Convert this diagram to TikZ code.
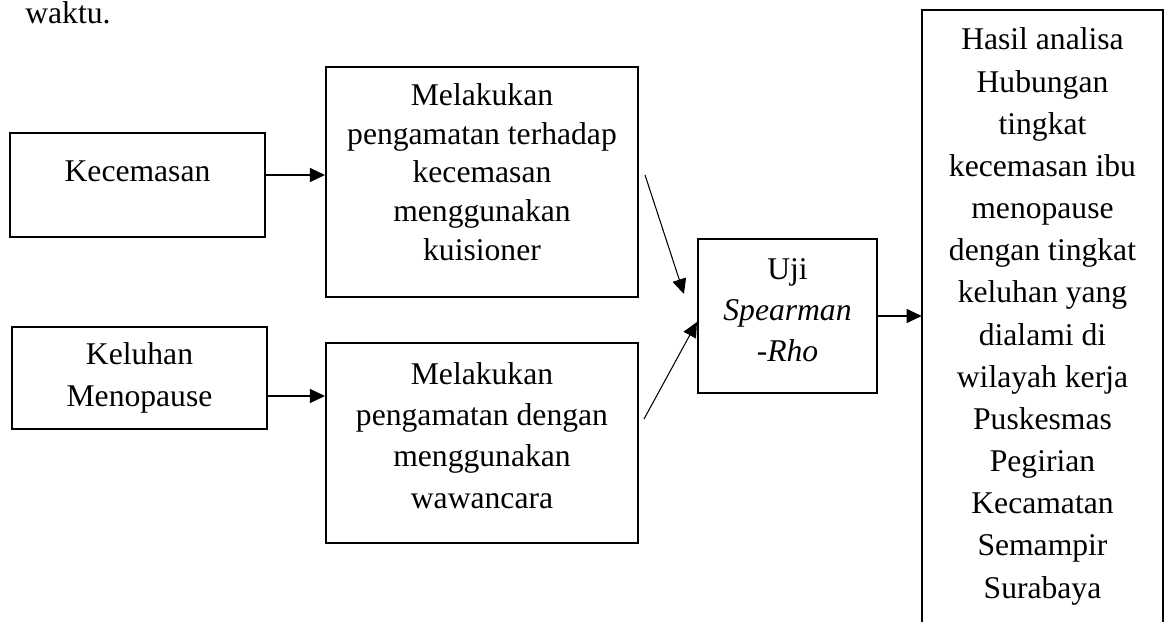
\documentclass[tikz,border=0pt]{standalone}
\usepackage{fontspec}
\setmainfont{Liberation Serif}
\usetikzlibrary{arrows.meta}

\begin{document}
\begin{tikzpicture}[x=0.02cm,y=-0.02cm,
    font=\fontsize{18pt}{23.5pt}\selectfont,
    kotak/.style={draw, line width=1.2pt, align=center, inner sep=0pt},
    panah/.style={-{Triangle[length=0.3cm,width=0.28cm]}, line width=0.6pt}]
    \useasboundingbox (0,0) rectangle (1167,622);

    % sisa paragraf
    \node[anchor=base west, inner sep=0pt] (waktu) at (25,24) {waktu.};

    % variabel
    \node[kotak, minimum width=5.1cm, minimum height=2.08cm, text depth=0.552cm] (kec) at (137.5,185) {Kecemasan};
    \node[kotak, minimum width=5.1cm, minimum height=2.04cm, text depth=0.14cm] (kel) at (139.5,378) {Keluhan\\Menopause};

    % cara pengamatan
    \node[kotak, minimum width=6.24cm, minimum height=4.6cm, text depth=0.4cm,
        font=\fontsize{18pt}{22pt}\selectfont] (amat1) at (482,182)
        {Melakukan\\pengamatan terhadap\\kecemasan\\menggunakan\\kuisioner};
    \node[kotak, minimum width=6.24cm, minimum height=4cm, text depth=0.31cm] (amat2) at (482,443)
        {Melakukan\\pengamatan dengan\\menggunakan\\wawancara};

    % uji statistik
    \node[kotak, minimum width=3.58cm, minimum height=3.08cm, text depth=0.24cm] (uji) at (787.5,316)
        {Uji\\\textit{Spearman}\\\textit{-Rho}};

    % hasil (tanpa garis bawah)
    \node[align=center, inner sep=0pt, minimum width=4.82cm, minimum height=12.24cm, text depth=0.12cm,
        font=\fontsize{18pt}{24pt}\selectfont] (hasil) at (1042.5,316)
        {Hasil analisa\\Hubungan\\tingkat\\kecemasan ibu\\menopause\\dengan tingkat\\keluhan yang\\dialami di\\wilayah kerja\\Puskesmas\\Pegirian\\Kecamatan\\Semampir\\Surabaya};
    \draw[line width=1.2pt] (hasil.south west) -- (hasil.north west) -- (hasil.north east) -- (hasil.south east);

    % panah
    \draw[panah] ([yshift=0.2cm]kec.east) -- ([yshift=0.2cm]kec.east -| amat1.west);
    \draw[panah] ([yshift=-0.36cm]kel.east) -- ([yshift=-0.36cm]kel.east -| amat2.west);
    \draw[panah] ([shift={(6,-7)}]amat1.east) -- ([shift={(-13,56)}]uji.north west);
    \draw[panah] ([shift={(5,-24)}]amat2.east) -- ([shift={(0,6)}]uji.west);
    \draw[panah] (uji.east) -- (uji.east -| hasil.west);
\end{tikzpicture}
\end{document}
